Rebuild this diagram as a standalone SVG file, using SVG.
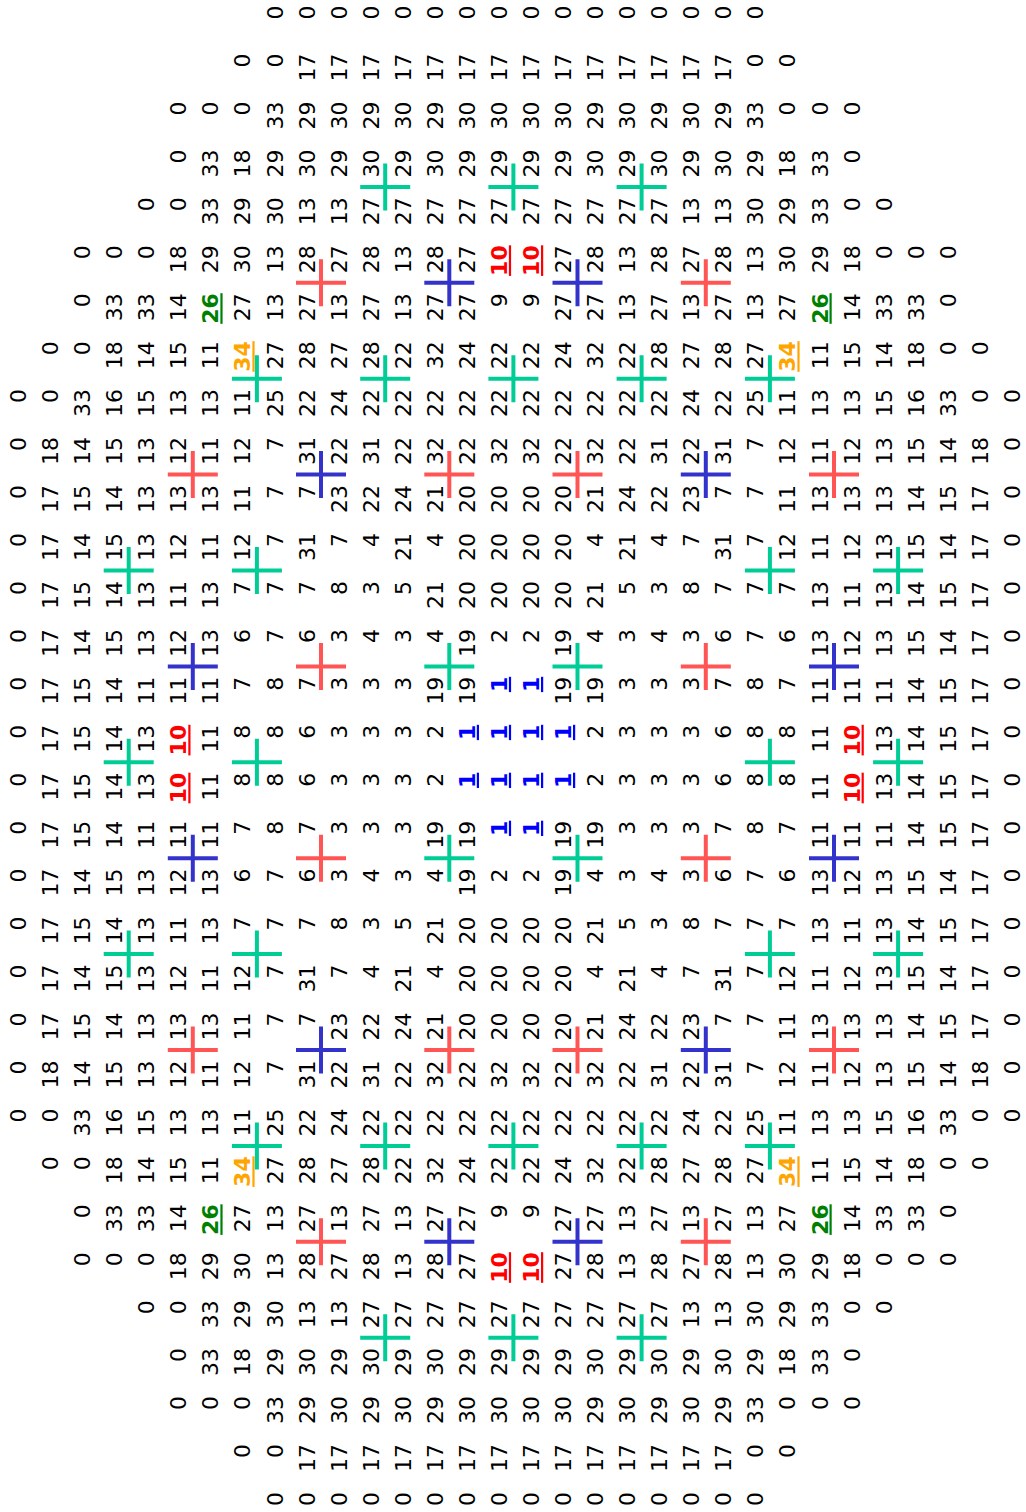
<svg xmlns="http://www.w3.org/2000/svg" xmlns:xlink="http://www.w3.org/1999/xlink" width="1026" height="1512" viewBox="0 0 1026 1512">
<style>
#grid{font-family:"DejaVu Sans","Liberation Sans",sans-serif;font-size:22px;text-anchor:end;fill:#000}
.R{fill:#ff0000;font-weight:bold;text-decoration:underline}
.B{fill:#0000ff;font-weight:bold;text-decoration:underline}
.O{fill:#ffa500;font-weight:bold;text-decoration:underline}
.G{fill:#008000;font-weight:bold;text-decoration:underline}
#crosses use{fill:none;stroke-width:4}
.xg{stroke:#00cc96}.xr{stroke:#ff5555}.xb{stroke:#3333cc}
</style>
<defs><path id="plus" d="M-25,0H25M0,-23.5V23.5"/></defs>
<rect width="1026" height="1512" fill="#fff"/>
<g id="grid" transform="rotate(-90)">
<g id="row0" transform="translate(-5.5,0)"><text y="282.5">0</text><text y="314.5">0</text><text y="346.6">0</text><text y="378.7">0</text><text y="410.7">0</text><text y="442.8">0</text><text y="474.8">0</text><text y="506.9">0</text><text y="539">0</text><text y="571">0</text><text y="603.1">0</text><text y="635.1">0</text><text y="667.2">0</text><text y="699.3">0</text><text y="731.3">0</text><text y="763.4">0</text></g>
<g id="row1" transform="translate(-53.5,0)"><text y="250.4">0</text><text y="282.5">0</text><text y="314.5">17</text><text y="346.6">17</text><text y="378.7">17</text><text y="410.7">17</text><text y="442.8">17</text><text y="474.8">17</text><text y="506.9">17</text><text y="539">17</text><text y="571">17</text><text y="603.1">17</text><text y="635.1">17</text><text y="667.2">17</text><text y="699.3">17</text><text y="731.3">17</text><text y="763.4">0</text><text y="795.4">0</text></g>
<g id="row2" transform="translate(-101.4,0)"><text y="186.3">0</text><text y="218.4">0</text><text y="250.4">0</text><text y="282.5">33</text><text y="314.5">29</text><text y="346.6">30</text><text y="378.7">29</text><text y="410.7">30</text><text y="442.8">29</text><text y="474.8">30</text><text y="506.9">30</text><text y="539">30</text><text y="571">30</text><text y="603.1">29</text><text y="635.1">30</text><text y="667.2">29</text><text y="699.3">30</text><text y="731.3">29</text><text y="763.4">33</text><text y="795.4">0</text><text y="827.5">0</text><text y="859.6">0</text></g>
<g id="row3" transform="translate(-149.4,0)"><text y="186.3">0</text><text y="218.4">33</text><text y="250.4">18</text><text y="282.5">29</text><text y="314.5">30</text><text y="346.6">29</text><text y="378.7">30</text><text y="410.7">29</text><text y="442.8">30</text><text y="474.8">29</text><text y="506.9">29</text><text y="539">29</text><text y="571">29</text><text y="603.1">30</text><text y="635.1">29</text><text y="667.2">30</text><text y="699.3">29</text><text y="731.3">30</text><text y="763.4">29</text><text y="795.4">18</text><text y="827.5">33</text><text y="859.6">0</text></g>
<g id="row4" transform="translate(-197.3,0)"><text y="154.2">0</text><text y="186.3">0</text><text y="218.4">33</text><text y="250.4">29</text><text y="282.5">30</text><text y="314.5">13</text><text y="346.6">13</text><text y="378.7">27</text><text y="410.7">27</text><text y="442.8">27</text><text y="474.8">27</text><text y="506.9">27</text><text y="539">27</text><text y="571">27</text><text y="603.1">27</text><text y="635.1">27</text><text y="667.2">27</text><text y="699.3">13</text><text y="731.3">13</text><text y="763.4">30</text><text y="795.4">29</text><text y="827.5">33</text><text y="859.6">0</text><text y="891.6">0</text></g>
<g id="row5" transform="translate(-245.3,0)"><text y="90.1">0</text><text y="122.2">0</text><text y="154.2">0</text><text y="186.3">18</text><text y="218.4">29</text><text y="250.4">30</text><text y="282.5">13</text><text y="314.5">28</text><text y="346.6">27</text><text y="378.7">28</text><text y="410.7">13</text><text y="442.8">28</text><text y="474.8">27</text><text class="R" y="506.9">10</text><text class="R" y="539">10</text><text y="571">27</text><text y="603.1">28</text><text y="635.1">13</text><text y="667.2">28</text><text y="699.3">27</text><text y="731.3">28</text><text y="763.4">13</text><text y="795.4">30</text><text y="827.5">29</text><text y="859.6">18</text><text y="891.6">0</text><text y="923.7">0</text><text y="955.7">0</text></g>
<g id="row6" transform="translate(-293.2,0)"><text y="90.1">0</text><text y="122.2">33</text><text y="154.2">33</text><text y="186.3">14</text><text class="G" y="218.4">26</text><text y="250.4">27</text><text y="282.5">13</text><text y="314.5">27</text><text y="346.6">13</text><text y="378.7">27</text><text y="410.7">13</text><text y="442.8">27</text><text y="474.8">27</text><text y="506.9">9</text><text y="539">9</text><text y="571">27</text><text y="603.1">27</text><text y="635.1">13</text><text y="667.2">27</text><text y="699.3">13</text><text y="731.3">27</text><text y="763.4">13</text><text y="795.4">27</text><text class="G" y="827.5">26</text><text y="859.6">14</text><text y="891.6">33</text><text y="923.7">33</text><text y="955.7">0</text></g>
<g id="row7" transform="translate(-341.2,0)"><text y="58.1">0</text><text y="90.1">0</text><text y="122.2">18</text><text y="154.2">14</text><text y="186.3">15</text><text y="218.4">11</text><text class="O" y="250.4">34</text><text y="282.5">27</text><text y="314.5">28</text><text y="346.6">27</text><text y="378.7">28</text><text y="410.7">22</text><text y="442.8">32</text><text y="474.8">24</text><text y="506.9">22</text><text y="539">22</text><text y="571">24</text><text y="603.1">32</text><text y="635.1">22</text><text y="667.2">28</text><text y="699.3">27</text><text y="731.3">28</text><text y="763.4">27</text><text class="O" y="795.4">34</text><text y="827.5">11</text><text y="859.6">15</text><text y="891.6">14</text><text y="923.7">18</text><text y="955.7">0</text><text y="987.8">0</text></g>
<g id="row8" transform="translate(-389.1,0)"><text y="26">0</text><text y="58.1">0</text><text y="90.1">33</text><text y="122.2">16</text><text y="154.2">15</text><text y="186.3">13</text><text y="218.4">13</text><text y="250.4">11</text><text y="282.5">25</text><text y="314.5">22</text><text y="346.6">24</text><text y="378.7">22</text><text y="410.7">22</text><text y="442.8">22</text><text y="474.8">22</text><text y="506.9">22</text><text y="539">22</text><text y="571">22</text><text y="603.1">22</text><text y="635.1">22</text><text y="667.2">22</text><text y="699.3">24</text><text y="731.3">22</text><text y="763.4">25</text><text y="795.4">11</text><text y="827.5">13</text><text y="859.6">13</text><text y="891.6">15</text><text y="923.7">16</text><text y="955.7">33</text><text y="987.8">0</text><text y="1019.9">0</text></g>
<g id="row9" transform="translate(-437.1,0)"><text y="26">0</text><text y="58.1">18</text><text y="90.1">14</text><text y="122.2">15</text><text y="154.2">13</text><text y="186.3">12</text><text y="218.4">11</text><text y="250.4">12</text><text y="282.5">7</text><text y="314.5">31</text><text y="346.6">22</text><text y="378.7">31</text><text y="410.7">22</text><text y="442.8">32</text><text y="474.8">22</text><text y="506.9">32</text><text y="539">32</text><text y="571">22</text><text y="603.1">32</text><text y="635.1">22</text><text y="667.2">31</text><text y="699.3">22</text><text y="731.3">31</text><text y="763.4">7</text><text y="795.4">12</text><text y="827.5">11</text><text y="859.6">12</text><text y="891.6">13</text><text y="923.7">15</text><text y="955.7">14</text><text y="987.8">18</text><text y="1019.9">0</text></g>
<g id="row10" transform="translate(-485,0)"><text y="26">0</text><text y="58.1">17</text><text y="90.1">15</text><text y="122.2">14</text><text y="154.2">13</text><text y="186.3">13</text><text y="218.4">13</text><text y="250.4">11</text><text y="282.5">7</text><text y="314.5">7</text><text y="346.6">23</text><text y="378.7">22</text><text y="410.7">24</text><text y="442.8">21</text><text y="474.8">20</text><text y="506.9">20</text><text y="539">20</text><text y="571">20</text><text y="603.1">21</text><text y="635.1">24</text><text y="667.2">22</text><text y="699.3">23</text><text y="731.3">7</text><text y="763.4">7</text><text y="795.4">11</text><text y="827.5">13</text><text y="859.6">13</text><text y="891.6">13</text><text y="923.7">14</text><text y="955.7">15</text><text y="987.8">17</text><text y="1019.9">0</text></g>
<g id="row11" transform="translate(-533,0)"><text y="26">0</text><text y="58.1">17</text><text y="90.1">14</text><text y="122.2">15</text><text y="154.2">13</text><text y="186.3">12</text><text y="218.4">11</text><text y="250.4">12</text><text y="282.5">7</text><text y="314.5">31</text><text y="346.6">7</text><text y="378.7">4</text><text y="410.7">21</text><text y="442.8">4</text><text y="474.8">20</text><text y="506.9">20</text><text y="539">20</text><text y="571">20</text><text y="603.1">4</text><text y="635.1">21</text><text y="667.2">4</text><text y="699.3">7</text><text y="731.3">31</text><text y="763.4">7</text><text y="795.4">12</text><text y="827.5">11</text><text y="859.6">12</text><text y="891.6">13</text><text y="923.7">15</text><text y="955.7">14</text><text y="987.8">17</text><text y="1019.9">0</text></g>
<g id="row12" transform="translate(-580.9,0)"><text y="26">0</text><text y="58.1">17</text><text y="90.1">15</text><text y="122.2">14</text><text y="154.2">13</text><text y="186.3">11</text><text y="218.4">13</text><text y="250.4">7</text><text y="282.5">7</text><text y="314.5">7</text><text y="346.6">8</text><text y="378.7">3</text><text y="410.7">5</text><text y="442.8">21</text><text y="474.8">20</text><text y="506.9">20</text><text y="539">20</text><text y="571">20</text><text y="603.1">21</text><text y="635.1">5</text><text y="667.2">3</text><text y="699.3">8</text><text y="731.3">7</text><text y="763.4">7</text><text y="795.4">7</text><text y="827.5">13</text><text y="859.6">11</text><text y="891.6">13</text><text y="923.7">14</text><text y="955.7">15</text><text y="987.8">17</text><text y="1019.9">0</text></g>
<g id="row13" transform="translate(-628.9,0)"><text y="26">0</text><text y="58.1">17</text><text y="90.1">14</text><text y="122.2">15</text><text y="154.2">13</text><text y="186.3">12</text><text y="218.4">13</text><text y="250.4">6</text><text y="282.5">7</text><text y="314.5">6</text><text y="346.6">3</text><text y="378.7">4</text><text y="410.7">3</text><text y="442.8">4</text><text y="474.8">19</text><text y="506.9">2</text><text y="539">2</text><text y="571">19</text><text y="603.1">4</text><text y="635.1">3</text><text y="667.2">4</text><text y="699.3">3</text><text y="731.3">6</text><text y="763.4">7</text><text y="795.4">6</text><text y="827.5">13</text><text y="859.6">12</text><text y="891.6">13</text><text y="923.7">15</text><text y="955.7">14</text><text y="987.8">17</text><text y="1019.9">0</text></g>
<g id="row14" transform="translate(-676.8,0)"><text y="26">0</text><text y="58.1">17</text><text y="90.1">15</text><text y="122.2">14</text><text y="154.2">11</text><text y="186.3">11</text><text y="218.4">11</text><text y="250.4">7</text><text y="282.5">8</text><text y="314.5">7</text><text y="346.6">3</text><text y="378.7">3</text><text y="410.7">3</text><text y="442.8">19</text><text y="474.8">19</text><text class="B" y="506.9">1</text><text class="B" y="539">1</text><text y="571">19</text><text y="603.1">19</text><text y="635.1">3</text><text y="667.2">3</text><text y="699.3">3</text><text y="731.3">7</text><text y="763.4">8</text><text y="795.4">7</text><text y="827.5">11</text><text y="859.6">11</text><text y="891.6">11</text><text y="923.7">14</text><text y="955.7">15</text><text y="987.8">17</text><text y="1019.9">0</text></g>
<g id="row15" transform="translate(-724.8,0)"><text y="26">0</text><text y="58.1">17</text><text y="90.1">15</text><text y="122.2">14</text><text y="154.2">13</text><text class="R" y="186.3">10</text><text y="218.4">11</text><text y="250.4">8</text><text y="282.5">8</text><text y="314.5">6</text><text y="346.6">3</text><text y="378.7">3</text><text y="410.7">3</text><text y="442.8">2</text><text class="B" y="474.8">1</text><text class="B" y="506.9">1</text><text class="B" y="539">1</text><text class="B" y="571">1</text><text y="603.1">2</text><text y="635.1">3</text><text y="667.2">3</text><text y="699.3">3</text><text y="731.3">6</text><text y="763.4">8</text><text y="795.4">8</text><text y="827.5">11</text><text class="R" y="859.6">10</text><text y="891.6">13</text><text y="923.7">14</text><text y="955.7">15</text><text y="987.8">17</text><text y="1019.9">0</text></g>
<g id="row16" transform="translate(-772.7,0)"><text y="26">0</text><text y="58.1">17</text><text y="90.1">15</text><text y="122.2">14</text><text y="154.2">13</text><text class="R" y="186.3">10</text><text y="218.4">11</text><text y="250.4">8</text><text y="282.5">8</text><text y="314.5">6</text><text y="346.6">3</text><text y="378.7">3</text><text y="410.7">3</text><text y="442.8">2</text><text class="B" y="474.8">1</text><text class="B" y="506.9">1</text><text class="B" y="539">1</text><text class="B" y="571">1</text><text y="603.1">2</text><text y="635.1">3</text><text y="667.2">3</text><text y="699.3">3</text><text y="731.3">6</text><text y="763.4">8</text><text y="795.4">8</text><text y="827.5">11</text><text class="R" y="859.6">10</text><text y="891.6">13</text><text y="923.7">14</text><text y="955.7">15</text><text y="987.8">17</text><text y="1019.9">0</text></g>
<g id="row17" transform="translate(-820.7,0)"><text y="26">0</text><text y="58.1">17</text><text y="90.1">15</text><text y="122.2">14</text><text y="154.2">11</text><text y="186.3">11</text><text y="218.4">11</text><text y="250.4">7</text><text y="282.5">8</text><text y="314.5">7</text><text y="346.6">3</text><text y="378.7">3</text><text y="410.7">3</text><text y="442.8">19</text><text y="474.8">19</text><text class="B" y="506.9">1</text><text class="B" y="539">1</text><text y="571">19</text><text y="603.1">19</text><text y="635.1">3</text><text y="667.2">3</text><text y="699.3">3</text><text y="731.3">7</text><text y="763.4">8</text><text y="795.4">7</text><text y="827.5">11</text><text y="859.6">11</text><text y="891.6">11</text><text y="923.7">14</text><text y="955.7">15</text><text y="987.8">17</text><text y="1019.9">0</text></g>
<g id="row18" transform="translate(-868.6,0)"><text y="26">0</text><text y="58.1">17</text><text y="90.1">14</text><text y="122.2">15</text><text y="154.2">13</text><text y="186.3">12</text><text y="218.4">13</text><text y="250.4">6</text><text y="282.5">7</text><text y="314.5">6</text><text y="346.6">3</text><text y="378.7">4</text><text y="410.7">3</text><text y="442.8">4</text><text y="474.8">19</text><text y="506.9">2</text><text y="539">2</text><text y="571">19</text><text y="603.1">4</text><text y="635.1">3</text><text y="667.2">4</text><text y="699.3">3</text><text y="731.3">6</text><text y="763.4">7</text><text y="795.4">6</text><text y="827.5">13</text><text y="859.6">12</text><text y="891.6">13</text><text y="923.7">15</text><text y="955.7">14</text><text y="987.8">17</text><text y="1019.9">0</text></g>
<g id="row19" transform="translate(-916.6,0)"><text y="26">0</text><text y="58.1">17</text><text y="90.1">15</text><text y="122.2">14</text><text y="154.2">13</text><text y="186.3">11</text><text y="218.4">13</text><text y="250.4">7</text><text y="282.5">7</text><text y="314.5">7</text><text y="346.6">8</text><text y="378.7">3</text><text y="410.7">5</text><text y="442.8">21</text><text y="474.8">20</text><text y="506.9">20</text><text y="539">20</text><text y="571">20</text><text y="603.1">21</text><text y="635.1">5</text><text y="667.2">3</text><text y="699.3">8</text><text y="731.3">7</text><text y="763.4">7</text><text y="795.4">7</text><text y="827.5">13</text><text y="859.6">11</text><text y="891.6">13</text><text y="923.7">14</text><text y="955.7">15</text><text y="987.8">17</text><text y="1019.9">0</text></g>
<g id="row20" transform="translate(-964.5,0)"><text y="26">0</text><text y="58.1">17</text><text y="90.1">14</text><text y="122.2">15</text><text y="154.2">13</text><text y="186.3">12</text><text y="218.4">11</text><text y="250.4">12</text><text y="282.5">7</text><text y="314.5">31</text><text y="346.6">7</text><text y="378.7">4</text><text y="410.7">21</text><text y="442.8">4</text><text y="474.8">20</text><text y="506.9">20</text><text y="539">20</text><text y="571">20</text><text y="603.1">4</text><text y="635.1">21</text><text y="667.2">4</text><text y="699.3">7</text><text y="731.3">31</text><text y="763.4">7</text><text y="795.4">12</text><text y="827.5">11</text><text y="859.6">12</text><text y="891.6">13</text><text y="923.7">15</text><text y="955.7">14</text><text y="987.8">17</text><text y="1019.9">0</text></g>
<g id="row21" transform="translate(-1012.5,0)"><text y="26">0</text><text y="58.1">17</text><text y="90.1">15</text><text y="122.2">14</text><text y="154.2">13</text><text y="186.3">13</text><text y="218.4">13</text><text y="250.4">11</text><text y="282.5">7</text><text y="314.5">7</text><text y="346.6">23</text><text y="378.7">22</text><text y="410.7">24</text><text y="442.8">21</text><text y="474.8">20</text><text y="506.9">20</text><text y="539">20</text><text y="571">20</text><text y="603.1">21</text><text y="635.1">24</text><text y="667.2">22</text><text y="699.3">23</text><text y="731.3">7</text><text y="763.4">7</text><text y="795.4">11</text><text y="827.5">13</text><text y="859.6">13</text><text y="891.6">13</text><text y="923.7">14</text><text y="955.7">15</text><text y="987.8">17</text><text y="1019.9">0</text></g>
<g id="row22" transform="translate(-1060.4,0)"><text y="26">0</text><text y="58.1">18</text><text y="90.1">14</text><text y="122.2">15</text><text y="154.2">13</text><text y="186.3">12</text><text y="218.4">11</text><text y="250.4">12</text><text y="282.5">7</text><text y="314.5">31</text><text y="346.6">22</text><text y="378.7">31</text><text y="410.7">22</text><text y="442.8">32</text><text y="474.8">22</text><text y="506.9">32</text><text y="539">32</text><text y="571">22</text><text y="603.1">32</text><text y="635.1">22</text><text y="667.2">31</text><text y="699.3">22</text><text y="731.3">31</text><text y="763.4">7</text><text y="795.4">12</text><text y="827.5">11</text><text y="859.6">12</text><text y="891.6">13</text><text y="923.7">15</text><text y="955.7">14</text><text y="987.8">18</text><text y="1019.9">0</text></g>
<g id="row23" transform="translate(-1108.4,0)"><text y="26">0</text><text y="58.1">0</text><text y="90.1">33</text><text y="122.2">16</text><text y="154.2">15</text><text y="186.3">13</text><text y="218.4">13</text><text y="250.4">11</text><text y="282.5">25</text><text y="314.5">22</text><text y="346.6">24</text><text y="378.7">22</text><text y="410.7">22</text><text y="442.8">22</text><text y="474.8">22</text><text y="506.9">22</text><text y="539">22</text><text y="571">22</text><text y="603.1">22</text><text y="635.1">22</text><text y="667.2">22</text><text y="699.3">24</text><text y="731.3">22</text><text y="763.4">25</text><text y="795.4">11</text><text y="827.5">13</text><text y="859.6">13</text><text y="891.6">15</text><text y="923.7">16</text><text y="955.7">33</text><text y="987.8">0</text><text y="1019.9">0</text></g>
<g id="row24" transform="translate(-1156.3,0)"><text y="58.1">0</text><text y="90.1">0</text><text y="122.2">18</text><text y="154.2">14</text><text y="186.3">15</text><text y="218.4">11</text><text class="O" y="250.4">34</text><text y="282.5">27</text><text y="314.5">28</text><text y="346.6">27</text><text y="378.7">28</text><text y="410.7">22</text><text y="442.8">32</text><text y="474.8">24</text><text y="506.9">22</text><text y="539">22</text><text y="571">24</text><text y="603.1">32</text><text y="635.1">22</text><text y="667.2">28</text><text y="699.3">27</text><text y="731.3">28</text><text y="763.4">27</text><text class="O" y="795.4">34</text><text y="827.5">11</text><text y="859.6">15</text><text y="891.6">14</text><text y="923.7">18</text><text y="955.7">0</text><text y="987.8">0</text></g>
<g id="row25" transform="translate(-1204.3,0)"><text y="90.1">0</text><text y="122.2">33</text><text y="154.2">33</text><text y="186.3">14</text><text class="G" y="218.4">26</text><text y="250.4">27</text><text y="282.5">13</text><text y="314.5">27</text><text y="346.6">13</text><text y="378.7">27</text><text y="410.7">13</text><text y="442.8">27</text><text y="474.8">27</text><text y="506.9">9</text><text y="539">9</text><text y="571">27</text><text y="603.1">27</text><text y="635.1">13</text><text y="667.2">27</text><text y="699.3">13</text><text y="731.3">27</text><text y="763.4">13</text><text y="795.4">27</text><text class="G" y="827.5">26</text><text y="859.6">14</text><text y="891.6">33</text><text y="923.7">33</text><text y="955.7">0</text></g>
<g id="row26" transform="translate(-1252.2,0)"><text y="90.1">0</text><text y="122.2">0</text><text y="154.2">0</text><text y="186.3">18</text><text y="218.4">29</text><text y="250.4">30</text><text y="282.5">13</text><text y="314.5">28</text><text y="346.6">27</text><text y="378.7">28</text><text y="410.7">13</text><text y="442.8">28</text><text y="474.8">27</text><text class="R" y="506.9">10</text><text class="R" y="539">10</text><text y="571">27</text><text y="603.1">28</text><text y="635.1">13</text><text y="667.2">28</text><text y="699.3">27</text><text y="731.3">28</text><text y="763.4">13</text><text y="795.4">30</text><text y="827.5">29</text><text y="859.6">18</text><text y="891.6">0</text><text y="923.7">0</text><text y="955.7">0</text></g>
<g id="row27" transform="translate(-1300.2,0)"><text y="154.2">0</text><text y="186.3">0</text><text y="218.4">33</text><text y="250.4">29</text><text y="282.5">30</text><text y="314.5">13</text><text y="346.6">13</text><text y="378.7">27</text><text y="410.7">27</text><text y="442.8">27</text><text y="474.8">27</text><text y="506.9">27</text><text y="539">27</text><text y="571">27</text><text y="603.1">27</text><text y="635.1">27</text><text y="667.2">27</text><text y="699.3">13</text><text y="731.3">13</text><text y="763.4">30</text><text y="795.4">29</text><text y="827.5">33</text><text y="859.6">0</text><text y="891.6">0</text></g>
<g id="row28" transform="translate(-1348.1,0)"><text y="186.3">0</text><text y="218.4">33</text><text y="250.4">18</text><text y="282.5">29</text><text y="314.5">30</text><text y="346.6">29</text><text y="378.7">30</text><text y="410.7">29</text><text y="442.8">30</text><text y="474.8">29</text><text y="506.9">29</text><text y="539">29</text><text y="571">29</text><text y="603.1">30</text><text y="635.1">29</text><text y="667.2">30</text><text y="699.3">29</text><text y="731.3">30</text><text y="763.4">29</text><text y="795.4">18</text><text y="827.5">33</text><text y="859.6">0</text></g>
<g id="row29" transform="translate(-1396.1,0)"><text y="186.3">0</text><text y="218.4">0</text><text y="250.4">0</text><text y="282.5">33</text><text y="314.5">29</text><text y="346.6">30</text><text y="378.7">29</text><text y="410.7">30</text><text y="442.8">29</text><text y="474.8">30</text><text y="506.9">30</text><text y="539">30</text><text y="571">30</text><text y="603.1">29</text><text y="635.1">30</text><text y="667.2">29</text><text y="699.3">30</text><text y="731.3">29</text><text y="763.4">33</text><text y="795.4">0</text><text y="827.5">0</text><text y="859.6">0</text></g>
<g id="row30" transform="translate(-1444,0)"><text y="250.4">0</text><text y="282.5">0</text><text y="314.5">17</text><text y="346.6">17</text><text y="378.7">17</text><text y="410.7">17</text><text y="442.8">17</text><text y="474.8">17</text><text y="506.9">17</text><text y="539">17</text><text y="571">17</text><text y="603.1">17</text><text y="635.1">17</text><text y="667.2">17</text><text y="699.3">17</text><text y="731.3">17</text><text y="763.4">0</text><text y="795.4">0</text></g>
<g id="row31" transform="translate(-1492,0)"><text y="282.5">0</text><text y="314.5">0</text><text y="346.6">0</text><text y="378.7">0</text><text y="410.7">0</text><text y="442.8">0</text><text y="474.8">0</text><text y="506.9">0</text><text y="539">0</text><text y="571">0</text><text y="603.1">0</text><text y="635.1">0</text><text y="667.2">0</text><text y="699.3">0</text><text y="731.3">0</text><text y="763.4">0</text></g>
</g>
<g id="crosses">
<use href="#plus" class="xg" x="385.2" y="186.9"/><use href="#plus" class="xg" x="513.4" y="186.9"/><use href="#plus" class="xg" x="641.6" y="186.9"/>
<use href="#plus" class="xr" x="321" y="282.8"/><use href="#plus" class="xb" x="449.3" y="282.8"/><use href="#plus" class="xb" x="577.5" y="282.8"/><use href="#plus" class="xr" x="705.8" y="282.8"/>
<use href="#plus" class="xg" x="256.9" y="378.7"/><use href="#plus" class="xg" x="385.2" y="378.7"/><use href="#plus" class="xg" x="513.4" y="378.7"/><use href="#plus" class="xg" x="641.6" y="378.7"/><use href="#plus" class="xg" x="769.9" y="378.7"/>
<use href="#plus" class="xr" x="192.8" y="474.6"/><use href="#plus" class="xb" x="321" y="474.6"/><use href="#plus" class="xr" x="449.3" y="474.6"/><use href="#plus" class="xr" x="577.5" y="474.6"/><use href="#plus" class="xb" x="705.8" y="474.6"/><use href="#plus" class="xr" x="834" y="474.6"/>
<use href="#plus" class="xg" x="128.7" y="570.5"/><use href="#plus" class="xg" x="256.9" y="570.5"/><use href="#plus" class="xg" x="769.9" y="570.5"/><use href="#plus" class="xg" x="898.1" y="570.5"/>
<use href="#plus" class="xb" x="192.8" y="666.4"/><use href="#plus" class="xr" x="321" y="666.4"/><use href="#plus" class="xg" x="449.3" y="666.4"/><use href="#plus" class="xg" x="577.5" y="666.4"/><use href="#plus" class="xr" x="705.8" y="666.4"/><use href="#plus" class="xb" x="834" y="666.4"/>
<use href="#plus" class="xg" x="128.7" y="762.3"/><use href="#plus" class="xg" x="256.9" y="762.3"/><use href="#plus" class="xg" x="769.9" y="762.3"/><use href="#plus" class="xg" x="898.1" y="762.3"/>
<use href="#plus" class="xb" x="192.8" y="858.2"/><use href="#plus" class="xr" x="321" y="858.2"/><use href="#plus" class="xg" x="449.3" y="858.2"/><use href="#plus" class="xg" x="577.5" y="858.2"/><use href="#plus" class="xr" x="705.8" y="858.2"/><use href="#plus" class="xb" x="834" y="858.2"/>
<use href="#plus" class="xg" x="128.7" y="954.1"/><use href="#plus" class="xg" x="256.9" y="954.1"/><use href="#plus" class="xg" x="769.9" y="954.1"/><use href="#plus" class="xg" x="898.1" y="954.1"/>
<use href="#plus" class="xr" x="192.8" y="1050"/><use href="#plus" class="xb" x="321" y="1050"/><use href="#plus" class="xr" x="449.3" y="1050"/><use href="#plus" class="xr" x="577.5" y="1050"/><use href="#plus" class="xb" x="705.8" y="1050"/><use href="#plus" class="xr" x="834" y="1050"/>
<use href="#plus" class="xg" x="256.9" y="1145.9"/><use href="#plus" class="xg" x="385.2" y="1145.9"/><use href="#plus" class="xg" x="513.4" y="1145.9"/><use href="#plus" class="xg" x="641.6" y="1145.9"/><use href="#plus" class="xg" x="769.9" y="1145.9"/>
<use href="#plus" class="xr" x="321" y="1241.8"/><use href="#plus" class="xb" x="449.3" y="1241.8"/><use href="#plus" class="xb" x="577.5" y="1241.8"/><use href="#plus" class="xr" x="705.8" y="1241.8"/>
<use href="#plus" class="xg" x="385.2" y="1337.7"/><use href="#plus" class="xg" x="513.4" y="1337.7"/><use href="#plus" class="xg" x="641.6" y="1337.7"/>
</g>
</svg>
